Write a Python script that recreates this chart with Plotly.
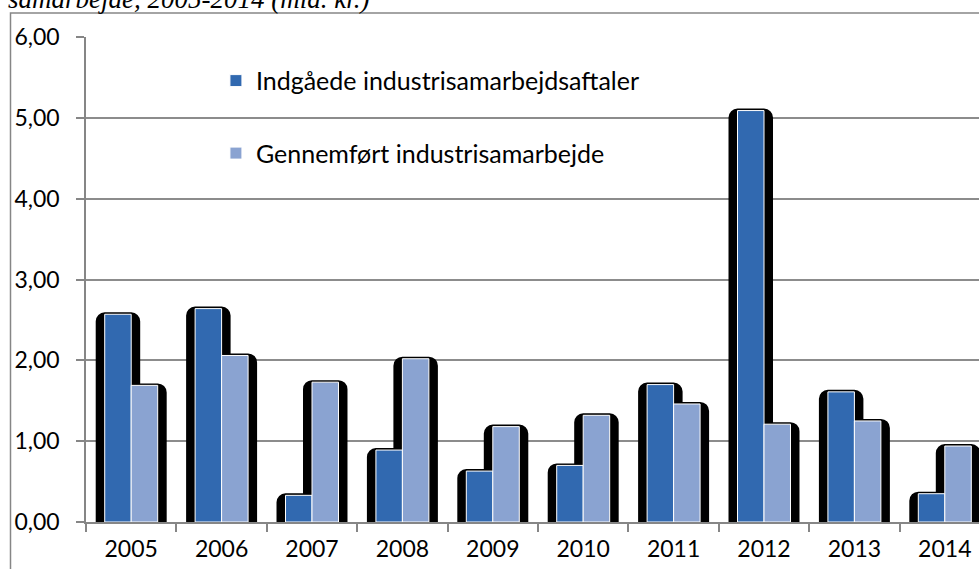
import plotly.graph_objects as go

years = ["2005", "2006", "2007", "2008", "2009", "2010", "2011", "2012", "2013", "2014"]
indgaaede = [2.57, 2.64, 0.33, 0.89, 0.63, 0.70, 1.70, 5.09, 1.61, 0.35]
gennemfoert = [1.69, 2.06, 1.73, 2.02, 1.18, 1.32, 1.46, 1.21, 1.25, 0.94]
series_names = ["Indgåede industrisamarbejdsaftaler", "Gennemført industrisamarbejde"]
y_ticks = [0, 1, 2, 3, 4, 5, 6]
title_text = "samarbejde, 2005-2014 (mia. kr.)"

W, H = 979, 569
ml, mt, mb = 86, 37, 47
mr = 0
cat_px = 90.4
plot_w = W - ml - mr
plot_h = H - mt - mb
x_max = plot_w / cat_px - 0.5

bw = 0.293
sh = 7 / cat_px

FONT = "Lato, 'Open Sans', sans-serif"
FS = 23

fig = go.Figure()
# shadows
for vals, off in [(indgaaede, -bw), (gennemfoert, 0.0)]:
    fig.add_trace(go.Bar(
        x=years, y=vals, width=bw + 2 * sh, offset=off - sh,
        marker=dict(color="black", line=dict(color="black", width=4), cornerradius=7),
        showlegend=False, hoverinfo="skip",
    ))
# bars
colors = ["#3169b0", "#8aa3d1"]
for vals, off, name, col, grp in [(indgaaede, -bw, series_names[0], colors[0], "a"),
                                   (gennemfoert, 0.0, series_names[1], colors[1], "b")]:
    fig.add_trace(go.Bar(
        x=years, y=vals, width=bw, offset=off, name=name, legendgroup=grp,
        marker=dict(color=col, line=dict(color="white", width=1)),
    ))

fig.update_layout(
    width=W, height=H,
    margin=dict(l=ml, r=mr, t=mt, b=mb),
    barmode="overlay",
    paper_bgcolor="white", plot_bgcolor="white",
    separators=",.",
    font=dict(family=FONT, size=FS, color="black"),
    legend=dict(x=0.1455, y=0.957, xanchor="left", yanchor="top",
                bgcolor="rgba(0,0,0,0)", font=dict(size=25),
                tracegroupgap=37, itemwidth=30),
    xaxis=dict(type="category", range=[-0.5, x_max], showgrid=False,
               showline=True, linecolor="#868686", linewidth=1.5,
               ticks="outside", tickson="boundaries", ticklen=8, tickcolor="#868686",
               tickwidth=1.5, tickfont=dict(size=FS), ticklabelstandoff=6),
    yaxis=dict(range=[0, 6], tickvals=y_ticks, tickformat=".2f",
               showgrid=True, gridcolor="#8c8c8c", gridwidth=1.5,
               showline=True, linecolor="#868686", linewidth=1.5,
               ticks="outside", ticklen=8, tickcolor="#868686", tickwidth=1.5,
               ticklabelstandoff=12, tickfont=dict(size=FS), zeroline=False),
    annotations=[dict(text="<i>" + title_text + "</i>", xref="paper", yref="paper",
                      x=-(ml - 6) / plot_w, y=1 + (mt - 16) / plot_h,
                      xanchor="left", yanchor="bottom", showarrow=False,
                      font=dict(family="'Liberation Serif', serif", size=27, color="black"))],
    shapes=[dict(type="rect", xref="paper", yref="paper",
                 x0=-(ml - 10.5) / plot_w, x1=1.1,
                 y0=-0.2, y1=1 + (mt - 13) / plot_h,
                 line=dict(color="#868686", width=1.5), layer="below")],
)

fig.write_html("out.html", config={"displayModeBar": False},
               post_script="document.body.style.margin='0';document.body.style.overflow='hidden';")
